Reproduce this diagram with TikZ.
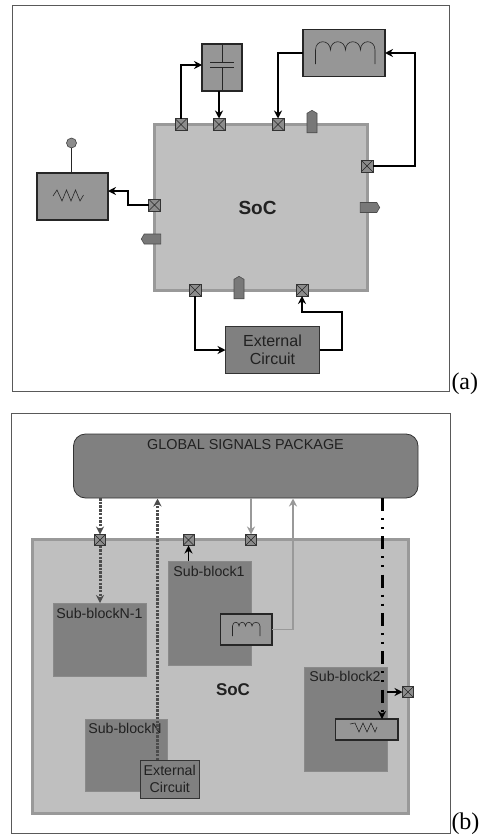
\documentclass[tikz,border=0pt]{standalone}
\usepackage{fontspec}
\setmainfont{Liberation Sans}
\newfontfamily\capfont{Liberation Serif}
\usetikzlibrary{arrows.meta, positioning, shapes.symbols}

\definecolor{frameC}{gray}{0.35}
\definecolor{socC}{gray}{0.75}
\definecolor{socedgeC}{gray}{0.60}
\definecolor{partC}{gray}{0.59}
\definecolor{blockC}{gray}{0.50}
\definecolor{padC}{gray}{0.55}
\definecolor{pinC}{gray}{0.47}
\definecolor{textC}{gray}{0.13}

\begin{document}
\begin{tikzpicture}[
    x=1pt,
    y=-1pt,
    >={Stealth[length=8pt,width=8pt]},
    every node/.style={inner sep=0pt, outer sep=0pt, text=textC},
    frame/.style={draw=frameC, line width=1pt, fill=white},
    soc/.style={draw=socedgeC, line width=3pt, fill=socC},
    part/.style={draw=black!85, line width=1.2pt, fill=partC},
    extern/.style={draw=black!80, line width=0.8pt, fill=blockC, align=center},
    block/.style={fill=blockC, draw=socedgeC!90!black, line width=0.4pt},
    pad/.style={draw=black!80, line width=0.7pt, fill=padC, minimum size=12pt,
        path picture={
            \draw[black!85, line width=0.6pt]
                (path picture bounding box.north west) -- (path picture bounding box.south east)
                (path picture bounding box.north east) -- (path picture bounding box.south west);
        }},
    pinup/.style={signal, signal to=north, draw=black!70, line width=0.6pt, fill=pinC,
        minimum width=10pt, minimum height=19.5pt, signal pointer angle=120},
    pinside/.style={signal, draw=black!70, line width=0.6pt, fill=pinC,
        minimum width=19.5pt, minimum height=10pt, signal pointer angle=120},
    wire/.style={line width=1.9pt, black},
    lightwire/.style={line width=1.5pt, black!40},
    symb/.style={line width=0.6pt, black!85},
    dotwire/.style={line width=3pt, black!70, dash pattern=on 2.5pt off 1.2pt},
    chainwire/.style={line width=3pt, black, dash pattern=on 13pt off 7pt on 2pt off 7pt on 2pt off 7.3pt}
]

\useasboundingbox (0,0) rectangle (488,835);

% =========================
% Panel (a)
% =========================
\node[frame, minimum width=437pt, minimum height=385.5pt] (frameA) at (231.25,198.25) {};
\node[soc, minimum width=213pt, minimum height=166pt] (socA) at (260.5,207) {};
\node[font=\bfseries\fontsize{19}{21}\selectfont] (socAtext) at (257.5,207.5) {SoC};
\node[font=\capfont\fontsize{24}{26}\selectfont, text=black, anchor=base west] (capA) at (451.5,389) {(a)};

% Pads and pins
\node[pad] (padA) at (181,124.5) {};
\node[pad] (padB) at (219,124.5) {};
\node[pad] (padC) at (278,124.5) {};
\node[pad] (padD) at (367,166) {};
\node[pad] (padE) at (154.5,205) {};
\node[pad] (padF) at (195,290) {};
\node[pad] (padG) at (302,290) {};

\node[pinup] (pinA) at (312,123) {};
\node[pinside, signal to=east] (pinB) at (368.5,207.5) {};
\node[pinside, signal to=west] (pinC) at (152.5,239) {};
\node[pinup] (pinD) at (239,289) {};

% Outside parts
\node[part, minimum width=40pt, minimum height=47pt] (capbox) at (222,67.5) {};
\node[part, minimum width=82pt, minimum height=47pt] (indbox) at (344,53) {};
\node[part, minimum width=71pt, minimum height=47pt] (resbox) at (72.5,196.5) {};
\node[extern, minimum width=94pt, minimum height=47pt, font=\fontsize{16}{18.5}\selectfont] (extA) at (272.5,350) {External\\Circuit};

% Capacitor
\draw[symb] (capbox.north) -- (222,62) (210,62) -- (234,62);
\draw[symb] (capbox.south) -- (222,67.5) (210,67.5) -- (234,67.5);

% Inductor
\draw[symb] (315.5,64) -- (315.5,50)
    .. controls (315.5,39) and (330,39) .. (330.5,50)
    .. controls (330.5,39) and (345,39) .. (345.5,50)
    .. controls (345.5,39) and (360,39) .. (360.5,50)
    .. controls (360.5,39) and (375,39) .. (375,50) -- (375,64);

% Resistor and antenna
\draw[symb] (53,196) -- (57,190) -- (62,201) -- (66.5,190) -- (71,201) -- (75.5,190) -- (80,201) -- (83.5,195);
\node[circle, draw=black!75, line width=0.6pt, fill=padC, minimum size=10pt] (antenna) at (71.5,143) {};
\draw[line width=1pt, black!85] (antenna.south) -- (antenna.south |- resbox.north);

% Connections
\draw[wire, ->] (padA.north) |- ([yshift=2.5pt]capbox.west);
\draw[wire, ->] (padB.north |- capbox.south) -- (padB.north);
\draw[wire, ->] (indbox.west) -| (padC.north);
\draw[wire, ->] (padD.east) -| (415,53) -- (indbox.east);
\draw[wire, ->] (padE.west) -| (128,191) -- ([yshift=5.5pt]resbox.east);
\draw[wire, ->] (padF.south) |- (extA.west);
\draw[wire, ->] (extA.east) -| (342,312) -| (padG.south);

% =========================
% Panel (b)
% =========================
\node[frame, minimum width=439pt, minimum height=419.5pt] (frameB) at (230.5,623.5) {};
\node[soc, minimum width=376pt, minimum height=274pt] (socB) at (220,676) {};
\node[font=\bfseries\fontsize{17}{19}\selectfont] (socBtext) at (233,690) {SoC};
\node[font=\capfont\fontsize{24}{26}\selectfont, text=black, anchor=base west] (capB) at (451.5,829) {(b)};

\node[draw=black!80, line width=0.8pt, fill=blockC, rounded corners=12pt, minimum width=344.5pt, minimum height=64pt] (globalpkg) at (245.75,466) {};
\node[font=\fontsize{14.4}{16}\selectfont] (globaltext) at (245.5,445) {GLOBAL SIGNALS PACKAGE};

% Sub-blocks
\node[block, minimum width=93pt, minimum height=73pt] (blockNm) at (99.5,639.5) {};
\node[block, minimum width=83pt, minimum height=104pt] (blockA) at (209.5,613) {};
\node[block, minimum width=83pt, minimum height=104pt] (blockB) at (345.5,719) {};
\node[block, minimum width=82pt, minimum height=72pt] (blockN) at (126,755) {};

\node[font=\fontsize{14.2}{16}\selectfont] (blockNmtext) at (99.5,613) {Sub-blockN-1};
\node[font=\fontsize{14.2}{16}\selectfont] (blockAtext) at (209,571) {Sub-block1};
\node[font=\fontsize{14.2}{16}\selectfont] (blockBtext) at (345,676) {Sub-block2};
\node[font=\fontsize{14.2}{16}\selectfont] (blockNtext) at (125,728) {Sub-blockN};

% Pads
\node[pad, minimum size=11pt] (padH) at (100,540) {};
\node[pad, minimum size=11pt] (padI) at (188.5,540) {};
\node[pad, minimum size=11pt] (padJ) at (251,540) {};
\node[pad, minimum size=11pt] (padK) at (408,692) {};

% Parts inside
\node[part, minimum width=51.5pt, minimum height=31pt] (indsmall) at (246.25,629.5) {};
\node[part, minimum width=62.5pt, minimum height=21pt] (ressmall) at (366.75,729.5) {};
\node[extern, minimum width=58.5pt, minimum height=38pt, font=\fontsize{14.2}{17.5}\selectfont] (extB) at (169.75,779) {External\\Circuit};

\draw[symb] (232.5,636) -- (232.5,626)
    .. controls (232.5,621) and (239,621) .. (239,626)
    .. controls (239,621) and (245.5,621) .. (245.5,626)
    .. controls (245.5,621) and (252,621) .. (252,626)
    .. controls (252,621) and (260,621) .. (260,626) -- (260,636);
\draw[symb] (350,724) -- (355,723) -- (359,732) -- (363,723) -- (367,732) -- (371,723) -- (375,732) -- (377,727);

% Connections
\draw[dotwire, ->] (padH.north |- globalpkg.south) -- (padH.north);
\draw[dotwire, ->] (padH.south) -- (padH.south |- blockNm.north);
\draw[dotwire, ->] (extB.north -| 157.5,0) -- (157.5,498.5);
\draw[wire, ->] (padI.south |- blockA.north) -- (padI.south);
\draw[lightwire, ->] (padJ.north |- globalpkg.south) -- (padJ.north);
\draw[lightwire, ->] (indsmall.east) -| (293,498.5);
\draw[chainwire, ->] (382,498) -- (382,719);
\draw[wire, ->] (blockB.east |- padK.west) -- (padK.west);

\end{tikzpicture}
\end{document}
